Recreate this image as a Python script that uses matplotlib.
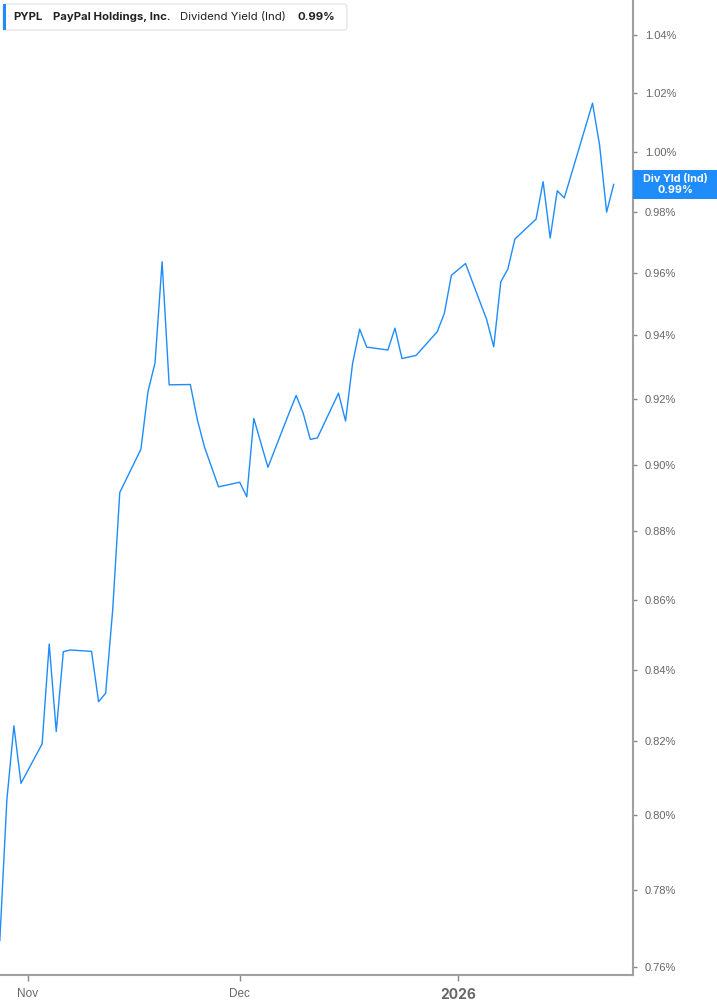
import matplotlib
matplotlib.use("Agg")
import matplotlib.pyplot as plt
import matplotlib.dates as mdates
from matplotlib.patches import Rectangle, FancyBboxPatch
from matplotlib.ticker import FixedLocator, FuncFormatter, NullLocator
import pandas as pd

# PYPL dividend yield (ind), %, trading days
dates = ["2025-10-28", "2025-10-29", "2025-10-30", "2025-10-31",
         "2025-11-03", "2025-11-04", "2025-11-05", "2025-11-06", "2025-11-07",
         "2025-11-10", "2025-11-11", "2025-11-12", "2025-11-13", "2025-11-14",
         "2025-11-17", "2025-11-18", "2025-11-19", "2025-11-20", "2025-11-21",
         "2025-11-24", "2025-11-25", "2025-11-26", "2025-11-28",
         "2025-12-01", "2025-12-02", "2025-12-03", "2025-12-04", "2025-12-05",
         "2025-12-08", "2025-12-09", "2025-12-10", "2025-12-11", "2025-12-12",
         "2025-12-15", "2025-12-16", "2025-12-17", "2025-12-18", "2025-12-19",
         "2025-12-22", "2025-12-23", "2025-12-24", "2025-12-26",
         "2025-12-29", "2025-12-30", "2025-12-31", "2026-01-02",
         "2026-01-05", "2026-01-06", "2026-01-07", "2026-01-08", "2026-01-09",
         "2026-01-12", "2026-01-13", "2026-01-14", "2026-01-15", "2026-01-16",
         "2026-01-20", "2026-01-21", "2026-01-22", "2026-01-23"]
div_yield = [0.7668, 0.8040, 0.8243, 0.8085,
             0.8193, 0.8473, 0.8227, 0.8451, 0.8456,
             0.8452, 0.8310, 0.8334, 0.8571, 0.8916,
             0.9047, 0.9224, 0.9314, 0.9636, 0.9245,
             0.9246, 0.9137, 0.9054, 0.8933,
             0.8947, 0.8903, 0.9141, 0.9066, 0.8992,
             0.9158, 0.9212, 0.9157, 0.9077, 0.9081,
             0.9219, 0.9133, 0.9312, 0.9420, 0.9363,
             0.9354, 0.9423, 0.9327, 0.9337,
             0.9412, 0.9470, 0.9592, 0.9630,
             0.9450, 0.9364, 0.9571, 0.9612, 0.9710,
             0.9775, 0.9899, 0.9713, 0.9869, 0.9845,
             1.0164, 1.0022, 0.9798, 0.9890]

y_ticks = [0.76, 0.78, 0.80, 0.82, 0.84, 0.86, 0.88, 0.90, 0.92, 0.94,
           0.96, 0.98, 1.00, 1.02, 1.04]
x_ticks = ["2025-11-01", "2025-12-01", "2026-01-01"]
x_labels = ["Nov", "Dec", "2026"]

ticker = "PYPL"
company = "PayPal Holdings, Inc."
metric = "Dividend Yield (Ind)"
badge = "Div Yld (Ind)"

blue = "#1E8CFA"
grey_axis = "#a0a0a0"
grey_text = "#666666"

W, H = 717, 1005
fig = plt.figure(figsize=(W / 100, H / 100), dpi=100)
ax = fig.add_axes([0, 30 / H, 632.5 / W, 975 / H])

x = pd.to_datetime(dates)
ax.plot(x, div_yield, color=blue, lw=1.0)

ax.set_yscale("log")
ax.set_ylim(0.7580, 1.0523)
ax.set_xlim(pd.Timestamp("2025-10-28 00:40"), pd.Timestamp("2026-01-25 16:00"))

ax.yaxis.tick_right()
ax.yaxis.set_major_locator(FixedLocator(y_ticks))
ax.yaxis.set_minor_locator(NullLocator())
ax.yaxis.set_major_formatter(FuncFormatter(lambda v, p: f"{v:.2f}%"))
ax.tick_params(axis="y", direction="out", length=3, width=1, color="#888888",
               labelcolor=grey_text, labelsize=8, pad=6)
for lab in ax.get_yticklabels():
    lab.set_fontfamily("Liberation Sans")

ax.set_xticks(pd.to_datetime(x_ticks))
ax.set_xticklabels(x_labels)
ax.tick_params(axis="x", direction="out", length=4, width=1, color="#888888",
               labelcolor=grey_text, labelsize=8.5, pad=5)
for i, lab in enumerate(ax.get_xticklabels()):
    lab.set_fontfamily("Liberation Sans")
    if i == 2:
        lab.set_fontweight("bold")
        lab.set_fontsize(10)
        lab.set_fontfamily("Inter")

for s in ["top", "left"]:
    ax.spines[s].set_visible(False)
for s in ["right", "bottom"]:
    ax.spines[s].set_color(grey_axis)
    ax.spines[s].set_linewidth(1.5)

# last value badge on the right axis
last = div_yield[-1]
ypx = ax.transData.transform((mdates.date2num(x[-1]), last))[1]
fig.add_artist(Rectangle((633 / W, (ypx - 14.5) / H), 84 / W, 29 / H,
                         transform=fig.transFigure, facecolor=blue,
                         edgecolor="none"))
fig.text(675 / W, (ypx + 5.5) / H, badge, color="white", fontsize=7.8,
         fontweight="bold", family="Inter", ha="center", va="center")
fig.text(675 / W, (ypx - 5.5) / H, f"{last:.2f}%", color="white", fontsize=7.8,
         fontweight="bold", family="Inter", ha="center", va="center")

# legend header
fig.add_artist(FancyBboxPatch((3 / W, (H - 30) / H), 344 / W, 26 / H,
                              boxstyle="round,pad=0,rounding_size=0.004",
                              transform=fig.transFigure, facecolor="white",
                              edgecolor="#e6e6e6", lw=1))
fig.add_artist(Rectangle((3 / W, (H - 30) / H), 3 / W, 26 / H,
                         transform=fig.transFigure, facecolor=blue,
                         edgecolor="none"))
ty = (H - 17) / H
hdr = dict(fontsize=8.2, family="Inter", color="#222222", va="center")
fig.text(13 / W, ty, ticker, fontweight="bold", **hdr)
fig.text(53 / W, ty, company, fontweight="bold", **hdr)
fig.text(180 / W, ty, metric, **hdr)
fig.text(297 / W, ty, f"{last:.2f}%", fontweight="bold", **hdr)

fig.savefig("out.png", dpi=100)
